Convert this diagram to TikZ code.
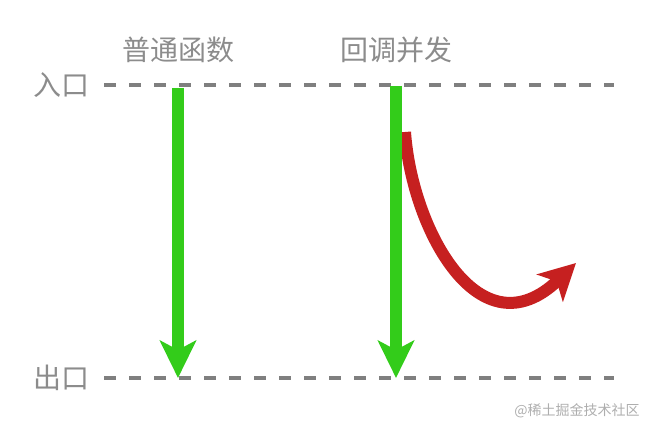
\documentclass[tikz,border=0pt]{standalone}
\usepackage{fontspec}
\setmainfont{Noto Sans CJK SC}
\usetikzlibrary{arrows.meta}

\begin{document}
\begin{tikzpicture}[x=0.75pt, y=-0.75pt]
    \definecolor{lineColour}{HTML}{7F7F7F}
    \definecolor{textColour}{HTML}{8C8C8C}
    \definecolor{greenColour}{HTML}{33CC1A}
    \definecolor{redColour}{HTML}{C62020}

    \def\topY{85}
    \def\botY{378}

    \tikzset{
        label/.style={text=textColour, font=\fontsize{21}{21}\selectfont, inner sep=0pt},
        border/.style={lineColour, line width=3pt, dash pattern=on 9pt off 9.75pt},
        flow/.style={greenColour, line width=8.5pt, -{Stealth[length=28pt, width=27pt, inset=7pt]}},
        callback/.style={redColour, line width=9pt, -{Stealth[length=27pt, width=28pt, inset=7pt]}}
    }

    \useasboundingbox (0,0) rectangle (652,434);

    % Draw entry and exit lines
    \draw[border] (104,\topY) -- (614,\topY);
    \draw[border] (104,\botY) -- (614,\botY);
    \node[label] (entry) at (61,\topY) {入口};
    \node[label] (exit) at (61,\botY) {出口};

    % Column titles
    \node[label] (plain) at (178,50) {普通函数};
    \node[label] (async) at (396,50) {回调并发};

    % Define arrow ends
    \coordinate (plainTop) at (178,88);
    \coordinate (plainBot) at (178,378);
    \coordinate (asyncTop) at (396,86);
    \coordinate (asyncBot) at (396,378);
    \coordinate (forkStart) at (405,132);
    \coordinate (forkEnd) at (576,263);

    % Draw callback branch
    \draw[callback] (forkStart) .. controls (412,230) and (480,355) .. (forkEnd);

    % Draw green flows
    \draw[flow] (plainTop) -- (plainBot);
    \draw[flow] (asyncTop) -- (asyncBot);

    % Watermark
    \node[text=textColour!70, font=\fontsize{10.5}{10.5}\selectfont, inner sep=0pt] (mark) at (577,411) {@稀土掘金技术社区};

\end{tikzpicture}
\end{document}
